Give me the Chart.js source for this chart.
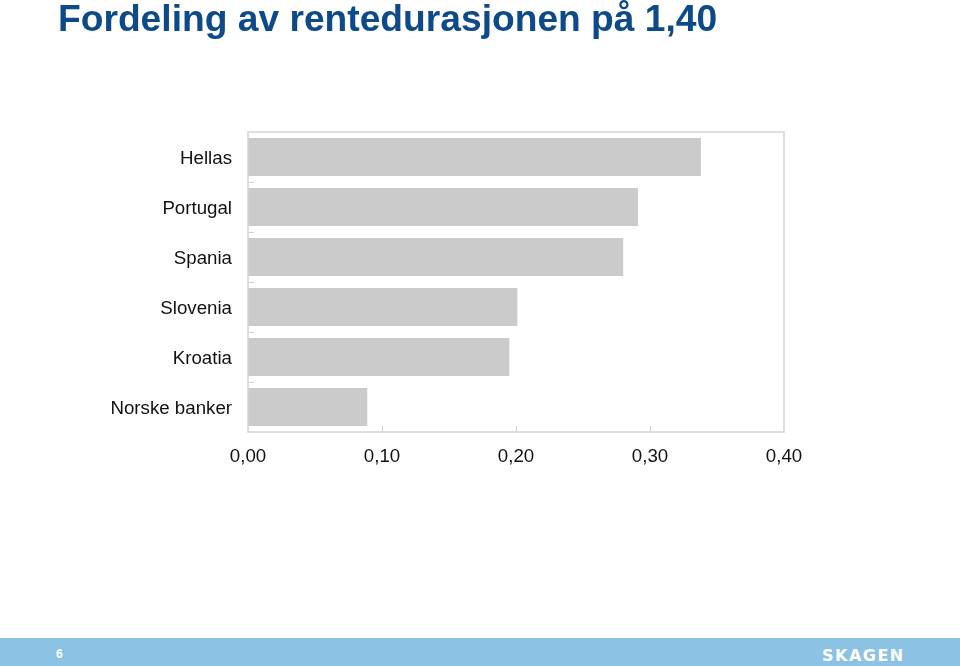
<!DOCTYPE html>
<html><head><meta charset="utf-8">
<script src="https://cdn.jsdelivr.net/npm/chart.js@4/dist/chart.umd.min.js"></script>
<style>
html,body{margin:0;padding:0;background:#fff;width:960px;height:666px;overflow:hidden;font-family:"Liberation Sans",Arial,sans-serif;}
#title{position:absolute;left:58px;top:0px;font-size:37.2px;line-height:1;font-weight:bold;color:#0d4a8a;white-space:nowrap}
#wrap{position:absolute;left:0;top:0;width:960px;height:666px}
#footer{position:absolute;left:0;top:638px;width:960px;height:28px;background:#8cc3e5}
#pg{position:absolute;left:56px;top:9px;font-size:12px;font-weight:bold;color:#fff}
#logo{position:absolute;left:822px;top:8px;font-size:16px;line-height:normal;font-weight:bold;color:#fff;letter-spacing:1.5px;font-family:"DejaVu Sans",sans-serif}
</style></head><body>
<div id="wrap"><canvas id="c" width="960" height="666"></canvas></div>
<div id="title">Fordeling av rentedurasjonen på 1,40</div>
<div id="footer"><span id="pg">6</span><span id="logo">SKAGEN</span></div>
<script>
const categories = ["Hellas","Portugal","Spania","Slovenia","Kroatia","Norske banker"];
const values = [0.338, 0.291, 0.280, 0.201, 0.195, 0.089];
const xTicks = [0, 0.1, 0.2, 0.3, 0.4];

const frame = {
  id:'frame',
  afterDatasetsDraw(chart){
    const ctx = chart.ctx, a = chart.chartArea, y = chart.scales.y, x = chart.scales.x;
    ctx.save();
    ctx.strokeStyle = '#d3d3d3'; ctx.lineWidth = 1.5;
    ctx.strokeRect(a.left, a.top, a.right - a.left, a.bottom - a.top);
    ctx.lineWidth = 1;
    for (let i = 0; i < categories.length - 1; i++) {
      const p = (y.getPixelForValue(i) + y.getPixelForValue(i + 1)) / 2;
      ctx.beginPath(); ctx.moveTo(a.left, Math.round(p) + 0.5); ctx.lineTo(a.left + 6, Math.round(p) + 0.5); ctx.stroke();
    }
    xTicks.slice(1, -1).forEach(v => {
      const p = Math.round(x.getPixelForValue(v)) + 0.5;
      ctx.beginPath(); ctx.moveTo(p, a.bottom); ctx.lineTo(p, a.bottom - 6); ctx.stroke();
    });
    ctx.restore();
  }
};

new Chart(document.getElementById('c'), {
  type: 'bar',
  data: { labels: categories, datasets: [{ data: values, backgroundColor: '#cbcbcb', borderWidth: 0, barPercentage: 0.76, categoryPercentage: 1 }] },
  options: {
    indexAxis: 'y', responsive: false, animation: false,
    layout: { padding: { left: 0, top: 132, right: 176, bottom: 194 } },
    plugins: { legend: { display: false }, tooltip: { enabled: false } },
    scales: {
      x: {
        min: 0, max: 0.4,
        afterBuildTicks: s => { s.ticks = xTicks.map(v => ({ value: v })); },
        afterFit: s => { s.height = 40; },
        grid: { display: false, drawTicks: false },
        border: { display: false },
        ticks: { padding: 14, color: '#111', font: { family: 'Liberation Sans', size: 18.7 }, maxRotation: 0,
                 callback: v => Number(v).toFixed(2).replace('.', ',') }
      },
      y: {
        afterFit: s => { s.width = 248; },
        grid: { display: false, drawTicks: false },
        border: { display: false },
        ticks: { padding: 16, labelOffset: 1.5, color: '#111', font: { family: 'Liberation Sans', size: 18.7 } }
      }
    }
  },
  plugins: [frame]
});
</script>
</body></html>
